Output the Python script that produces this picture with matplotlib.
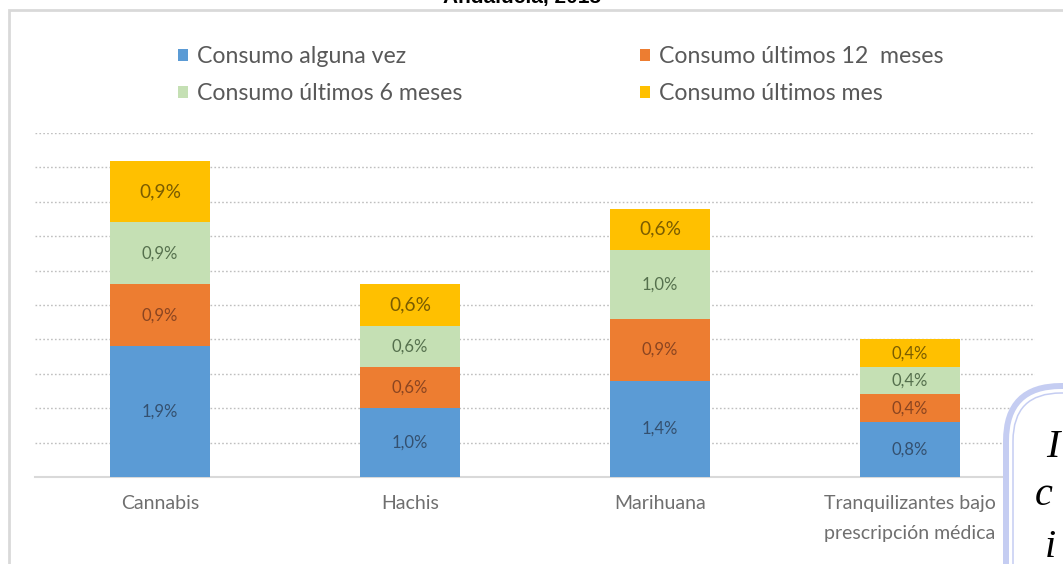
import matplotlib.pyplot as plt
from matplotlib.patches import Rectangle, FancyBboxPatch

# ---------------------------------------------------------------
# Data (percent values)
# ---------------------------------------------------------------
categorias = ['Cannabis', 'Hachis', 'Marihuana', 'Tranquilizantes bajo\nprescripción médica']
alguna_vez = [1.9, 1.0, 1.4, 0.8]
ultimos_12 = [0.9, 0.6, 0.9, 0.4]
ultimos_6 = [0.9, 0.6, 1.0, 0.4]
ultimo_mes = [0.9, 0.6, 0.6, 0.4]

series_nombres = ['Consumo alguna vez', 'Consumo últimos 12  meses',
                  'Consumo últimos 6 meses', 'Consumo últimos mes']
series = [alguna_vez, ultimos_12, ultimos_6, ultimo_mes]
colores = ['#5B9BD5', '#ED7D31', '#C5E0B4', '#FFC000']
colores_texto = ['#34506F', '#8A4521', '#55704D', '#7A5C00']

W, H = 1063, 564
plt.rcParams['font.family'] = ['Lato', 'DejaVu Sans']

fig = plt.figure(figsize=(W / 100, H / 100), dpi=100)

# outer chart frame and cropped title
fig.patches.append(Rectangle((9 / W, -0.1), 1.2, 1 - 10 / H + 0.1, transform=fig.transFigure,
                             fill=False, edgecolor='#D9D9D9', linewidth=2))
fig.text(522 / W, 1 - 3 / H, 'Andalucía, 2015', ha='center', va='baseline',
         fontsize=15, fontweight='bold', family='Liberation Sans', color='black')

ax = fig.add_axes([35 / W, (H - 477) / H, 1000 / W, 344 / H])

x = range(len(categorias))
bottom = [0.0] * len(categorias)
bars_por_serie = []
for nombre, valores, color in zip(series_nombres, series, colores):
    bars = ax.bar(x, valores, width=0.4, bottom=bottom, color=color, label=nombre, zorder=3)
    bars_por_serie.append(bars)
    bottom = [b + v for b, v in zip(bottom, valores)]

# data labels inside each segment
for k, (bars, valores) in enumerate(zip(bars_por_serie, series)):
    for i, (bar, v) in enumerate(zip(bars, valores)):
        size = 12
        if k == 3 and i < 3:
            size = 13.8
        ax.text(bar.get_x() + bar.get_width() / 2, bar.get_y() + bar.get_height() / 2,
                f'{v:.1f}%'.replace('.', ','), ha='center', va='center',
                fontsize=size, color=colores_texto[k], zorder=4)

ax.set_xlim(-0.5, 3.5)
ax.set_ylim(0, 5)
ax.set_yticks([i * 0.5 for i in range(1, 11)])
ax.grid(axis='y', color='#BFBFBF', linestyle=(0, (1.2, 1.6)), linewidth=1.0, zorder=0)
ax.set_axisbelow(True)
ax.tick_params(axis='y', left=False, labelleft=False)
ax.tick_params(axis='x', length=0, pad=13, labelsize=14, labelcolor='#6F6F6F')
ax.set_xticks(list(x))
ax.set_xticklabels(categorias, linespacing=1.9)
for s in ['top', 'right', 'left']:
    ax.spines[s].set_visible(False)
ax.spines['bottom'].set_color('#D9D9D9')
ax.spines['bottom'].set_linewidth(1.5)
ax.set_facecolor('none')

# legend, two columns
h = [b[0] for b in bars_por_serie]
leg_kw = dict(loc='upper left', frameon=False, fontsize=16.7, labelcolor='#595959',
              handlelength=0.45, handleheight=0.45, handletextpad=0.35,
              labelspacing=0.7, borderaxespad=0, borderpad=0)
fig.legend([h[0], h[2]], [series_nombres[0], series_nombres[2]],
           bbox_to_anchor=(178 / W, 1 - 46 / H), **leg_kw)
fig.legend([h[1], h[3]], [series_nombres[1], series_nombres[3]],
           bbox_to_anchor=(640 / W, 1 - 46 / H), **leg_kw)

# overlapping text box from the source document (bottom right), in inches
fig.patches.append(FancyBboxPatch((10.06, -1.0), 1.5, 1.0 + (H - 386) / 100,
                                  boxstyle='round,pad=0,rounding_size=0.55',
                                  transform=fig.dpi_scale_trans, facecolor='white',
                                  edgecolor='#C5CDF2', linewidth=4.3, zorder=5))
fig.patches.append(FancyBboxPatch((10.13, -1.0), 1.5, 1.0 + (H - 393) / 100,
                                  boxstyle='round,pad=0,rounding_size=0.48',
                                  transform=fig.dpi_scale_trans, facecolor='none',
                                  edgecolor='#C5CDF2', linewidth=1.1, zorder=6))
for letra, xx, yy in [('I', 1046, 457), ('c', 1035, 505), ('i', 1045, 557)]:
    fig.text(xx / W, 1 - yy / H, letra, ha='left', va='baseline', fontsize=29,
             style='italic', family='Liberation Serif', color='black', zorder=7)

fig.savefig('out.png', dpi=100)
